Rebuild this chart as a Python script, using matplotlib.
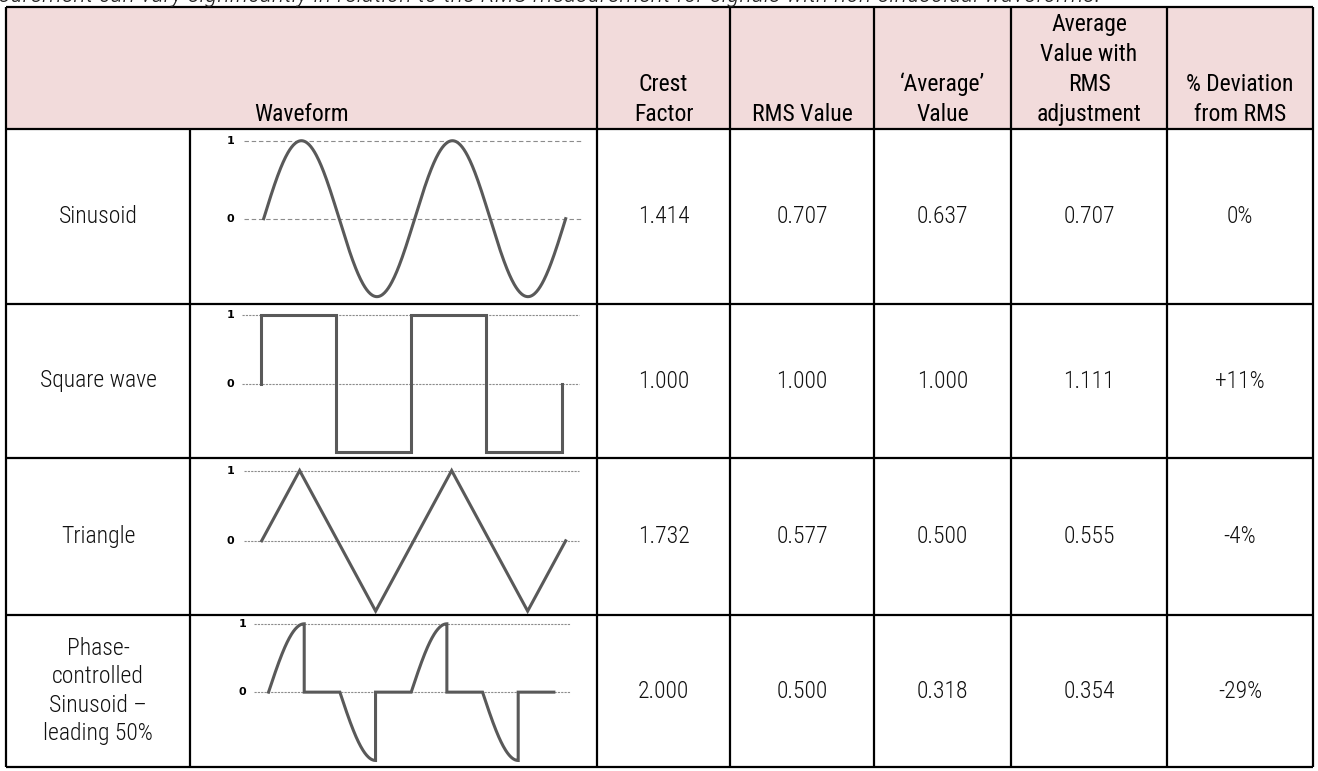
import numpy as np
import matplotlib
matplotlib.use("Agg")
from matplotlib import pyplot as plt
from matplotlib import font_manager as fm
from matplotlib.patches import Rectangle

W, H = 1318, 771  # pixels
DPI = 100

# the document uses a condensed sans; take the narrowest one that is installed
installed = {(f.name, f.stretch) for f in fm.fontManager.ttflist}
names_only = {n for n, _ in installed}
if 'Roboto Condensed' in names_only:
    FAMILY, STRETCH, SIZE = 'Roboto Condensed', 'normal', 17
elif 'Liberation Sans Narrow' in names_only:
    FAMILY, STRETCH, SIZE = 'Liberation Sans Narrow', 'normal', 17
elif ('DejaVu Sans', 'condensed') in installed:
    FAMILY, STRETCH, SIZE = 'DejaVu Sans', 'condensed', 15
else:
    FAMILY, STRETCH, SIZE = 'Roboto', 'normal', 16
plt.rcParams['font.family'] = [FAMILY, 'DejaVu Sans']
plt.rcParams['font.stretch'] = STRETCH

# table content
caption = ("surement can vary significantly in relation to the RMS measurement "
           "for signals with non-sinusoidal waveforms.")
headers = ["Waveform", "Crest\nFactor", "RMS Value", "\u2018Average\u2019\nValue",
           "Average\nValue with\nRMS\nadjustment", "% Deviation\nfrom RMS"]
names = ["Sinusoid", "Square wave", "Triangle",
         "Phase-\ncontrolled\nSinusoid \u2013\nleading 50%"]
crest = ["1.414", "1.000", "1.732", "2.000"]
rms = ["0.707", "1.000", "0.577", "0.500"]
average = ["0.637", "1.000", "0.500", "0.318"]
adjusted = ["0.707", "1.111", "0.555", "0.354"]
deviation = ["0%", "+11%", "-4%", "-29%"]

# waveform shapes, time in cycles (two cycles each)
sq_t = [0, 0, 0.5, 0.5, 1, 1, 1.5, 1.5, 2, 2]
sq_v = [0, 1, 1, -1, -1, 1, 1, -1, -1, 0]
tri_t = [0, 0.25, 0.75, 1.25, 1.75, 2]
tri_v = [0, 1, -1, 1, -1, 0]


def sine_wave():
    t = np.linspace(0, 2, 500)
    return t, np.sin(2 * np.pi * t)


def phase_controlled():
    # sine conducts for the first quarter of each half cycle, then cut to 0
    ts, vs = [], []
    for k in range(4):
        t0 = k * 0.5
        seg = np.linspace(t0, t0 + 0.25, 80)
        ts += list(seg) + [t0 + 0.25, t0 + 0.5]
        vs += list(np.sin(2 * np.pi * seg)) + [0, 0]
    return ts, vs


waves = [sine_wave(), (sq_t, sq_v), (tri_t, tri_v), phase_controlled()]

# grid layout in pixels
col_x = [6, 190, 597, 730, 874, 1011, 1167, 1313]
row_y = [7, 129, 304, 458, 615, 767]

# per-row placement inside the waveform cell (fractions of the cell)
# label x, dash start, dash end, wave start, wave end, level 1 (from top), level -1
wave_layout = [
    (0.100, 0.133, 0.960, 0.181, 0.923, 0.067, 0.958, (0, (4, 2.5))),
    (0.100, 0.128, 0.955, 0.174, 0.913, 0.072, 0.963, (0, (2, 1))),
    (0.100, 0.133, 0.957, 0.176, 0.923, 0.080, 0.975, (0, (2, 1))),
    (0.128, 0.157, 0.933, 0.193, 0.894, 0.058, 0.957, (0, (2, 1))),
]

fig = plt.figure(figsize=(W / DPI, H / DPI), dpi=DPI)
ax = fig.add_axes([0, 0, 1, 1])
ax.set_xlim(0, W)
ax.set_ylim(H, 0)
ax.axis('off')

# header fill
ax.add_patch(Rectangle((col_x[0], row_y[0]), col_x[-1] - col_x[0], row_y[1] - row_y[0],
                       facecolor='#F2DBDB', edgecolor='none', zorder=0))

# grid lines
lw = 1.6
ax.hlines(row_y, col_x[0], col_x[-1], color='black', lw=lw, zorder=3)
ax.vlines([col_x[0]] + col_x[2:], row_y[0], row_y[-1], color='black', lw=lw, zorder=3)
ax.vlines(col_x[1], row_y[1], row_y[-1], color='black', lw=lw, zorder=3)

# caption (clipped at the top of the page)
ax.text(-1, 2, caption, style='italic', fontsize=SIZE + 2, fontweight='light',
        va='baseline', ha='left', color='#222222')

# headers
head_centers = [(col_x[0] + col_x[2]) / 2] + [(col_x[i] + col_x[i + 1]) / 2 for i in range(2, 7)]
for xc, label in zip(head_centers, headers):
    ax.text(xc, row_y[1] - 3, label, ha='center', va='bottom', fontsize=SIZE,
            fontweight='normal', linespacing=1.38, color='black')

# body
columns = [crest, rms, average, adjusted, deviation]
for r in range(4):
    yc = (row_y[r + 1] + row_y[r + 2]) / 2
    ax.text((col_x[0] + col_x[1]) / 2, yc, names[r], ha='center', va='center',
            fontsize=SIZE, fontweight='light', linespacing=1.3, color='#111111')
    for c, vals in enumerate(columns):
        xc = (col_x[c + 2] + col_x[c + 3]) / 2
        ax.text(xc, yc, vals[r], ha='center', va='center', fontsize=SIZE,
                fontweight='light', color='#111111')

# waveform drawings
for r, (t, v) in enumerate(waves):
    lx, ds, de, ws, we, lt, lb, dash = wave_layout[r]
    x0, x1 = col_x[1], col_x[2]
    y0, y1 = row_y[r + 1], row_y[r + 2]
    wax = fig.add_axes([x0 / W, 1 - y1 / H, (x1 - x0) / W, (y1 - y0) / H])
    wax.axis('off')
    sx = 2 / (we - ws)
    wax.set_xlim(-ws * sx, (1 - ws) * sx)
    sy = 2 / (lb - lt)
    wax.set_ylim(-1 - (1 - lb) * sy, 1 + lt * sy)
    for level in (1, 0):
        wax.axhline(level, xmin=ds, xmax=de, color='#8c8c8c', lw=0.8, linestyle=dash)
        wax.text(lx, level, str(level), transform=wax.get_yaxis_transform(),
                 ha='center', va='center', fontsize=8, fontweight='bold',
                 family='DejaVu Sans', stretch='normal', color='black')
    wax.plot(t, v, color='#595959', lw=2.2, solid_joinstyle='miter')

fig.savefig("out.png", dpi=DPI)
